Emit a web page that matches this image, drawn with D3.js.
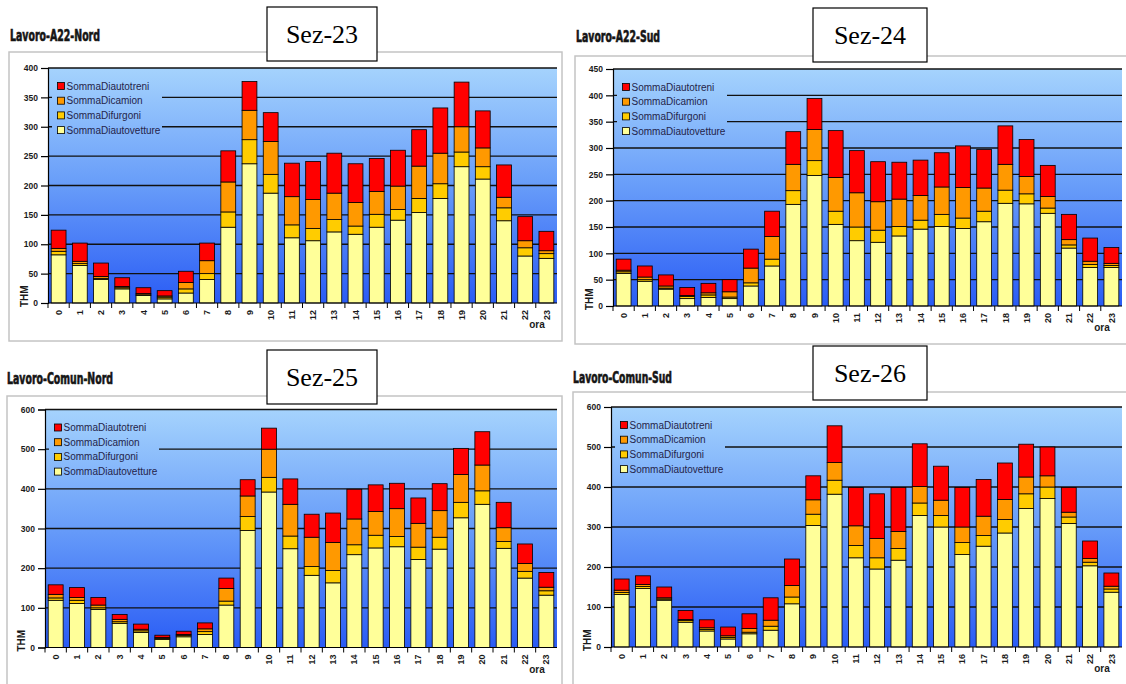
<!DOCTYPE html>
<html>
<head>
<meta charset="utf-8">
<script src="https://cdn.jsdelivr.net/npm/d3@7/dist/d3.min.js"></script>
<style>
  html, body { margin: 0; padding: 0; background: #fff; }
  svg { display: block; }
</style>
</head>
<body>
<svg id="chart" width="1126" height="684"></svg>
<script>
// Hourly traffic (THM) by vehicle class for four counting sections
const hours = ["0","1","2","3","4","5","6","7","8","9","10","11","12","13","14","15","16","17","18","19","20","21","22","23"];
const seriesKeys = ["SommaDiautovetture", "SommaDifurgoni", "SommaDicamion", "SommaDiautotreni"];
const seriesColors = ["#ffff99", "#ffcc00", "#ff9900", "#ff0000"];

// Sez-23 Lavoro-A22-Nord
const sez23Autovetture = [82,64,40,24,13,7,17,40,129,237,187,111,106,121,117,129,141,154,178,232,211,140,80,76];
const sez23Furgoni     = [6,3,2,2,1,3,7,10,26,41,32,22,21,21,14,22,18,24,25,25,21,22,14,8];
const sez23Camion      = [5,4,3,2,2,2,11,22,51,50,56,48,49,45,40,39,40,55,52,43,32,18,12,5];
const sez23Autotreni   = [31,31,23,15,10,9,19,30,53,49,49,57,65,68,66,56,61,62,77,76,63,55,41,33];

// Sez-24 Lavoro-A22-Sud
const sez24Autovetture = [62,47,32,14,16,14,38,76,193,248,155,124,121,133,146,151,147,160,195,194,176,110,73,73];
const sez24Furgoni     = [3,3,2,4,5,3,6,13,26,28,25,26,23,18,17,23,20,20,25,19,10,6,6,4];
const sez24Camion      = [3,5,4,2,4,10,28,43,50,59,64,65,54,52,47,52,58,44,49,33,22,10,6,4];
const sez24Autotreni   = [21,21,21,15,18,23,36,48,62,59,89,80,76,70,67,65,79,73,73,70,59,48,44,30];

// Sez-25 Lavoro-Comun-Nord
const sez25Autovetture = [119,111,96,61,38,20,27,33,107,295,392,249,182,163,234,251,254,222,248,327,361,250,175,132];
const sez25Furgoni     = [6,8,4,4,4,3,3,7,10,35,37,32,22,31,25,32,26,31,30,39,34,17,17,11];
const sez25Camion      = [9,7,7,6,4,2,3,7,32,52,71,80,74,71,65,60,70,60,67,70,65,35,20,9];
const sez25Autotreni   = [24,25,19,12,13,6,8,15,26,41,53,64,58,74,75,67,64,64,68,66,84,64,49,37];

// Sez-26 Lavoro-Comun-Sud
const sez26Autovetture = [131,146,117,62,40,20,33,42,108,304,382,223,195,217,329,300,231,252,285,346,371,309,203,137];
const sez26Furgoni     = [5,5,3,4,4,4,4,10,17,28,35,31,28,29,31,29,30,27,34,37,29,16,9,8];
const sez26Camion      = [6,5,3,3,4,4,9,15,29,36,44,49,48,43,41,38,39,48,50,42,28,12,9,7];
const sez26Autotreni   = [28,22,27,22,20,22,37,56,66,60,92,96,112,110,107,85,99,92,91,82,72,62,44,33];

const yTicks400 = [0,50,100,150,200,250,300,350,400];
const yTicks450 = [0,50,100,150,200,250,300,350,400,450];
const yTicks600 = [0,100,200,300,400,500,600];

const panels = [
  { title: "Lavoro-A22-Nord", titleW: 90, tx: 10, ty: 41, sez: "Sez-23",
    box: [9, 52, 553, 289], sezBox: [267, 7, 110, 54],
    plot: [48, 557, 68, 303], ticks: yTicks400,
    values: [sez23Autovetture, sez23Furgoni, sez23Camion, sez23Autotreni] },
  { title: "Lavoro-A22-Sud", titleW: 84, tx: 576, ty: 42, sez: "Sez-24",
    box: [575, 56, 560, 288], sezBox: [813, 8, 114, 54],
    plot: [613, 1122, 69, 306], ticks: yTicks450,
    values: [sez24Autovetture, sez24Furgoni, sez24Camion, sez24Autotreni] },
  { title: "Lavoro-Comun-Nord", titleW: 106, tx: 7, ty: 384, sez: "Sez-25",
    box: [7, 396, 555, 300], sezBox: [267, 350, 110, 54],
    plot: [45, 557, 409.5, 647.5], ticks: yTicks600,
    values: [sez25Autovetture, sez25Furgoni, sez25Camion, sez25Autotreni] },
  { title: "Lavoro-Comun-Sud", titleW: 99, tx: 573, ty: 383, sez: "Sez-26",
    box: [573, 392, 560, 300], sezBox: [813, 346, 114, 54],
    plot: [611, 1122, 407, 647], ticks: yTicks600,
    values: [sez26Autovetture, sez26Furgoni, sez26Camion, sez26Autotreni] }
];

const svg = d3.select("#chart");
const defs = svg.append("defs");

panels.forEach((p, i) => {
  const [x0, x1, yTop, yBot] = p.plot;
  const g = svg.append("g");

  // outer frame
  g.append("rect")
    .attr("x", p.box[0]).attr("y", p.box[1])
    .attr("width", p.box[2]).attr("height", p.box[3])
    .attr("fill", "#fff").attr("stroke", "#c4c4c4").attr("stroke-width", 1.5);

  // section title (heavy condensed lettering)
  g.append("text")
    .attr("x", p.tx).attr("y", p.ty)
    .attr("textLength", p.titleW).attr("lengthAdjust", "spacingAndGlyphs")
    .attr("font-family", "'DejaVu Sans Condensed', 'DejaVu Sans', sans-serif")
    .attr("font-weight", "bold").attr("font-size", 15)
    .attr("fill", "#151515").attr("stroke", "#151515").attr("stroke-width", 0.6)
    .text(p.title);

  // background gradient shared by plot area and legend
  const gid = "bg" + i;
  const grad = defs.append("linearGradient")
    .attr("id", gid).attr("gradientUnits", "userSpaceOnUse")
    .attr("x1", 0).attr("x2", 0).attr("y1", yTop).attr("y2", yBot);
  grad.append("stop").attr("offset", 0).attr("stop-color", "#a5d3fd");
  grad.append("stop").attr("offset", 0.5).attr("stop-color", "#679cf9");
  grad.append("stop").attr("offset", 1).attr("stop-color", "#2a5cf5");

  const x = d3.scaleBand().domain(hours).range([x0, x1]).paddingInner(0.3).paddingOuter(0.15);
  const yMax = p.ticks[p.ticks.length - 1];
  const y = d3.scaleLinear().domain([0, yMax]).range([yBot, yTop]);

  g.append("rect")
    .attr("x", x0).attr("y", yTop).attr("width", x1 - x0).attr("height", yBot - yTop)
    .attr("fill", `url(#${gid})`);

  // gridlines
  g.append("g").selectAll("line").data(p.ticks.filter(t => t > 0)).join("line")
    .attr("x1", x0).attr("x2", x1)
    .attr("y1", d => y(d)).attr("y2", d => y(d))
    .attr("stroke", "#111").attr("stroke-width", 1.3);

  // legend (its own background hides the gridlines behind it)
  const leg = g.append("g");
  leg.append("rect")
    .attr("x", x0 + 4).attr("y", yTop + 9).attr("width", 110).attr("height", 61)
    .attr("fill", `url(#${gid})`);
  const legendOrder = [3, 2, 1, 0];
  legendOrder.forEach((k, j) => {
    const cy = yTop + 18 + j * 14.7;
    leg.append("rect")
      .attr("x", x0 + 9.5).attr("y", cy - 3.5).attr("width", 7).attr("height", 7)
      .attr("fill", seriesColors[k]).attr("stroke", "#000").attr("stroke-width", 0.8);
    leg.append("text")
      .attr("x", x0 + 18.5).attr("y", cy).attr("dy", "0.35em")
      .attr("font-family", "'Liberation Sans', Arial, sans-serif").attr("font-size", 10)
      .attr("fill", "#24244a")
      .text(seriesKeys[k]);
  });

  // stacked bars
  const rows = hours.map((h, hi) => {
    const r = { hour: h };
    seriesKeys.forEach((k, ki) => { r[k] = p.values[ki][hi]; });
    return r;
  });
  const stacked = d3.stack().keys(seriesKeys)(rows);
  g.append("g").selectAll("g").data(stacked).join("g")
    .attr("fill", (d, ki) => seriesColors[ki])
    .selectAll("rect").data(d => d).join("rect")
      .attr("x", d => x(d.data.hour))
      .attr("width", x.bandwidth())
      .attr("y", d => y(d[1]))
      .attr("height", d => y(d[0]) - y(d[1]))
      .attr("stroke", "#000").attr("stroke-width", 0.8);

  // y axis
  const yAxis = g.append("g").attr("transform", `translate(${x0},0)`)
    .call(d3.axisLeft(y).tickValues(p.ticks).tickSize(7).tickPadding(3));
  yAxis.select(".domain").attr("stroke", "#000").attr("stroke-width", 1.2);
  yAxis.selectAll(".tick line").attr("stroke", "#000").attr("stroke-width", 1.2);
  yAxis.selectAll("text")
    .attr("font-family", "'Liberation Sans', Arial, sans-serif")
    .attr("font-weight", "bold").attr("font-size", 8.5).attr("fill", "#1a1a1a");

  // x axis with ticks between bands
  const xa = g.append("g");
  xa.append("line").attr("x1", x0).attr("x2", x1).attr("y1", yBot).attr("y2", yBot)
    .attr("stroke", "#000").attr("stroke-width", 1.2);
  const step = x.step();
  xa.selectAll("line.tk").data(hours).join("line").attr("class", "tk")
    .attr("x1", d => x(d) - step * x.paddingInner() / 2)
    .attr("x2", d => x(d) - step * x.paddingInner() / 2)
    .attr("y1", yBot).attr("y2", yBot + 5)
    .attr("stroke", "#000").attr("stroke-width", 1);
  xa.selectAll("text").data(hours).join("text")
    .attr("transform", d => `translate(${x(d) + x.bandwidth() / 2},${yBot + 7}) rotate(-90)`)
    .attr("text-anchor", "end").attr("dy", "0.35em")
    .attr("font-family", "'Liberation Sans', Arial, sans-serif")
    .attr("font-weight", "bold").attr("font-size", 9).attr("fill", "#1a1a1a")
    .text(d => d);

  // axis titles
  g.append("text")
    .attr("transform", `translate(${x0 - 20},${yBot + 4}) rotate(-90)`)
    .attr("font-family", "'Liberation Sans', Arial, sans-serif")
    .attr("font-weight", "bold").attr("font-size", 10).attr("fill", "#1a1a1a")
    .text("THM");
  g.append("text")
    .attr("x", x1 - 20).attr("y", yBot + 25).attr("text-anchor", "middle")
    .attr("font-family", "'Liberation Sans', Arial, sans-serif")
    .attr("font-weight", "bold").attr("font-size", 10).attr("fill", "#1a1a1a")
    .text("ora");

  // section label box
  g.append("rect")
    .attr("x", p.sezBox[0]).attr("y", p.sezBox[1])
    .attr("width", p.sezBox[2]).attr("height", p.sezBox[3])
    .attr("fill", "#fff").attr("stroke", "#000").attr("stroke-width", 1.2);
  g.append("text")
    .attr("x", p.sezBox[0] + p.sezBox[2] / 2).attr("y", p.sezBox[1] + p.sezBox[3] / 2 + 9)
    .attr("text-anchor", "middle")
    .attr("font-family", "'Liberation Serif', 'Times New Roman', serif")
    .attr("font-size", 26).attr("fill", "#000")
    .text(p.sez);
});
</script>
</body>
</html>
